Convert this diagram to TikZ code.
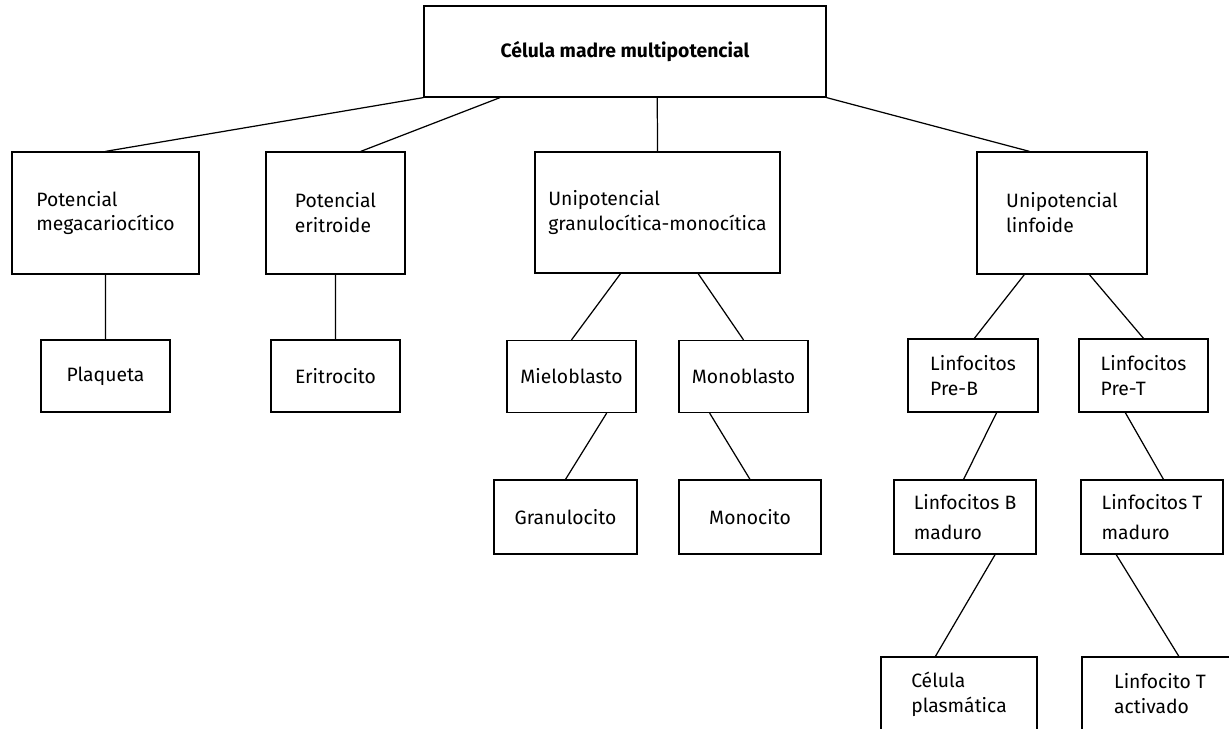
\documentclass[tikz,border=0pt]{standalone}
\usepackage{fontspec}
\setmainfont{Fira Sans}
\usepackage{tikz}
\usetikzlibrary{calc}
\newcommand{\cs}{\fontsize{11}{14.2}\selectfont}
\tikzset{
  cell/.style 2 args={draw, rectangle, align=left, inner sep=0pt, font=\cs,
    minimum width=#1*0.02cm, minimum height=#2*0.02cm},
}

\begin{document}
\begin{tikzpicture}[x=0.02cm, y=-0.02cm, line width=0.7pt]
    \useasboundingbox (0,0) rectangle (1229,729);
    \clip (0,0) rectangle (1229,729);
    \node[cell={402}{91}] (top) at (625,51.5) {\textbf{Célula madre multipotencial}};
    \node[cell={187}{122}] (mega) at (105.5,213) {Potencial\\megacariocítico};
    \node[cell={139}{122}] (eri) at (335.5,213) {Potencial\\eritroide};
    \node[cell={245}{121}] (gm) at (657.5,212.5) {Unipotencial\\granulocítica-monocítica};
    \node[cell={170}{122}] (lin) at (1062,213) {Unipotencial\\linfoide};
    \node[cell={129}{72}] (plaq) at (105.5,376) {Plaqueta};
    \node[cell={129}{72}] (eritro) at (335.5,376) {Eritrocito};
    \node[cell={129}{72}] (mb) at (571.5,376.5) {Mieloblasto};
    \node[cell={129}{72}] (mo) at (743.5,376.5) {Monoblasto};
    \node[cell={143}{74}] (gr) at (565.5,517) {Granulocito};
    \node[cell={142}{74}] (mc) at (750,517) {Monocito};
    \node[cell={130}{73}] (preB) at (973,375.5) {Linfocitos\\Pre-B};
    \node[cell={129}{73}] (preT) at (1143.5,375.5) {Linfocitos\\Pre-T};
    \node[cell={142}{74}] (Bm) at (965,517) {Linfocitos B\\[3pt]maduro};
    \node[cell={142}{74}] (Tm) at (1152,517) {Linfocitos T\\[3pt]maduro};
    \node[cell={156}{74}] (cp) at (959,694) {Célula\\plasmática};
    \node[cell={156}{74}] (ta) at (1160,694) {Linfocito T\\activado};
    \foreach \i/\a/\j/\b in {top/0/mega/.5, top/.19/eri/.68, top/.58/gm/.5, top/1/lin/.31,
      mega/.5/plaq/.5, eri/.5/eritro/.5, gm/.35/mb/.5, gm/.665/mo/.5, mb/.77/gr/.5,
      mo/.24/mc/.5, lin/.28/preB/.51, lin/.66/preT/.5, preB/.68/Bm/.49, preT/.36/Tm/.58,
      Bm/.71/cp/.35, Tm/.25/ta/.62} {
      \draw[] ($(\i.south west)!\a!(\i.south east)$) -- ($(\j.north west)!\b!(\j.north east)$);
    }
\end{tikzpicture}
\end{document}
